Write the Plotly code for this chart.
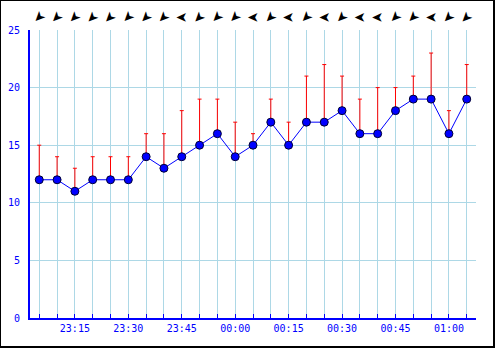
import plotly.graph_objects as go
from datetime import datetime, timedelta

times = ["23:05", "23:10", "23:15", "23:20", "23:25", "23:30", "23:35", "23:40",
         "23:45", "23:50", "23:55", "00:00", "00:05", "00:10", "00:15", "00:20",
         "00:25", "00:30", "00:35", "00:40", "00:45", "00:50", "00:55", "01:00", "01:05"]
wind_speed = [12, 12, 11, 12, 12, 12, 14, 13, 14, 15, 16, 14, 15, 17, 15, 17,
              17, 18, 16, 16, 18, 19, 19, 16, 19]
wind_gust = [15, 14, 13, 14, 14, 14, 16, 16, 18, 19, 19, 17, 16, 19, 17, 21,
             22, 21, 19, 20, 20, 21, 23, 18, 22]
wind_dir = ["NE", "NE", "NE", "NE", "NE", "NE", "NE", "NE", "E", "NE", "NE", "NE",
            "E", "NE", "E", "NE", "E", "NE", "E", "E", "NE", "NE", "E", "NE", "NE"]
y_ticks = [0, 5, 10, 15, 20, 25]

# build datetimes with day rollover
base = datetime(2024, 1, 1)
xs = []
day = 0
prev = None
for t in times:
    h, m = map(int, t.split(":"))
    if prev is not None and h < prev:
        day += 1
    prev = h
    xs.append(base + timedelta(days=day, hours=h, minutes=m))

ticktext = [t if int(t.split(":")[1]) % 15 == 0 else "" for t in times]
# rotation of a right-pointing arrow glyph so that it points where the wind blows to
dir_rot = {"N": 90, "NE": 135, "E": 180, "SE": 225, "S": 270, "SW": 315, "W": 0, "NW": 45}

BLUE = "#0000ff"
GRID = "#add8e6"

L, R, T, B = 30, 19, 0, 30
W, H = 495, 348
PW, PH = W - L - R, H - T - B   # 446 x 318
TOP_BAND = 30                    # pixels above main plot for the arrows
main_top = (PH - TOP_BAND) / PH

x_range = [xs[0] - timedelta(minutes=2.6), xs[-1] + timedelta(minutes=2.6)]

fig = go.Figure()
fig.add_trace(go.Scatter(
    x=xs, y=wind_speed, mode="lines+markers",
    line=dict(color=BLUE, width=1),
    marker=dict(color=BLUE, size=8, line=dict(color="#000033", width=1)),
    error_y=dict(type="data", symmetric=False,
                 array=[g - s for g, s in zip(wind_gust, wind_speed)],
                 arrayminus=[0] * len(wind_speed),
                 color="#ff0000", thickness=1, width=2),
    showlegend=False, hoverinfo="skip",
))
# invisible trace to establish the arrow band axes
fig.add_trace(go.Scatter(
    x=xs, y=[12] * len(xs), mode="markers", xaxis="x2", yaxis="y2",
    marker=dict(size=1, opacity=0), showlegend=False, hoverinfo="skip",
))

annotations = []
for x, d in zip(xs, wind_dir):
    annotations.append(dict(
        x=x, y=12, xref="x2", yref="y2", text="➤", showarrow=False,
        textangle=dir_rot[d], font=dict(family="DejaVu Sans", size=14, color="black"),
        xanchor="center", yanchor="middle",
    ))

def px(x):
    return (x - L) / PW

def py(y):
    return (H - B - y) / PH

shapes = [
    dict(type="line", xref="paper", yref="paper", x0=px(0.5), x1=px(0.5), y0=py(0), y1=py(348), line=dict(color="black", width=1)),
    dict(type="line", xref="paper", yref="paper", x0=px(0), x1=px(495), y0=py(0.5), y1=py(0.5), line=dict(color="black", width=1)),
    dict(type="line", xref="paper", yref="paper", x0=px(494), x1=px(494), y0=py(0), y1=py(348), line=dict(color="black", width=2)),
    dict(type="line", xref="paper", yref="paper", x0=px(0), x1=px(495), y0=py(347), y1=py(347), line=dict(color="black", width=2)),
]

fig.update_layout(
    template="none",
    width=W, height=H,
    margin=dict(l=L, r=R, t=T, b=B, pad=0, autoexpand=False),
    paper_bgcolor="white", plot_bgcolor="white",
    font=dict(family="DejaVu Sans Mono", size=10, color=BLUE),
    shapes=shapes, annotations=annotations,
    xaxis=dict(
        type="date", range=x_range,
        tickvals=xs, ticktext=ticktext,
        showgrid=True, gridcolor=GRID, gridwidth=1,
        ticks="inside", ticklen=4, tickcolor=BLUE, tickwidth=1,
        showline=True, linecolor=BLUE, linewidth=2,
        tickfont=dict(family="DejaVu Sans Mono", size=10, color=BLUE),
        zeroline=False, fixedrange=True, anchor="y", automargin=False,
    ),
    yaxis=dict(
        domain=[0, main_top],
        range=[0, 25], tickvals=y_ticks,
        showgrid=True, gridcolor=GRID, gridwidth=1,
        ticks="", ticklabelstandoff=6,
        showline=True, linecolor=BLUE, linewidth=2,
        tickfont=dict(family="DejaVu Sans Mono", size=10, color=BLUE),
        zeroline=False, fixedrange=True, anchor="x", automargin=False,
    ),
    xaxis2=dict(type="date", range=x_range, visible=False, showgrid=False,
                anchor="y2", fixedrange=True, automargin=False),
    yaxis2=dict(domain=[main_top, 1], range=[0, TOP_BAND], visible=False,
                showgrid=False, anchor="x2", fixedrange=True, automargin=False),
)

fig.write_html("out.html", config={"displayModeBar": False})
